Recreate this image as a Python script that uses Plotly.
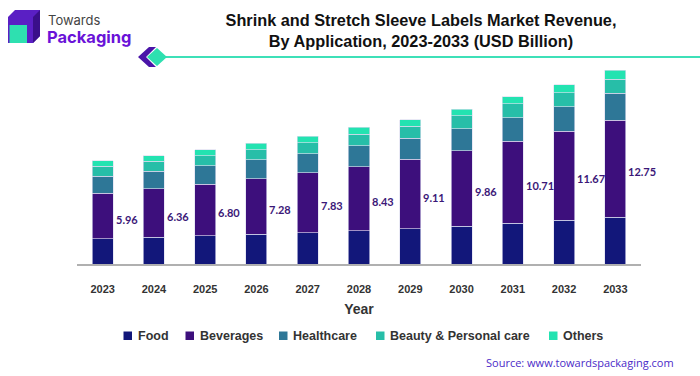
import plotly.graph_objects as go

years = ["2023", "2024", "2025", "2026", "2027", "2028", "2029", "2030", "2031", "2032", "2033"]
food = [3.29, 3.50, 3.68, 3.90, 4.12, 4.34, 4.60, 4.96, 5.35, 5.75, 6.12]
beverages = [5.96, 6.36, 6.80, 7.28, 7.83, 8.43, 9.11, 9.86, 10.71, 11.67, 12.75]
healthcare = [2.24, 2.27, 2.37, 2.46, 2.50, 2.72, 2.76, 2.89, 3.12, 3.20, 3.54]
beauty = [1.32, 1.31, 1.31, 1.36, 1.45, 1.49, 1.58, 1.71, 1.80, 1.84, 1.83]
others = [0.75, 0.75, 0.79, 0.84, 0.84, 0.92, 0.88, 0.88, 0.92, 1.05, 1.14]

series_names = ["Food", "Beverages", "Healthcare", "Beauty & Personal care", "Others"]
series_values = [food, beverages, healthcare, beauty, others]
colors = ["#12177a", "#3d0f7c", "#2e7797", "#27bea8", "#23e3b1"]

W, H = 700, 376
L, R, T, B = 77, 59, 60, 112
PW, PH = W - L - R, H - T - B


def pxx(x):
    return (x - L) / PW


def pxy(y):
    return (H - B - y) / PH


fig = go.Figure()
for name, vals, col in zip(series_names, series_values, colors):
    fig.add_trace(go.Bar(
        x=years, y=vals, name=name,
        marker=dict(color=col, line=dict(color="rgba(220,220,240,0.8)", width=0.8)),
        showlegend=False,
    ))

annotations = []
# beverages value labels (x given as category index)
for i, (f, b) in enumerate(zip(food, beverages)):
    annotations.append(dict(
        x=i, y=f + b / 2, xref="x", yref="y", text=f"{b:.2f}",
        showarrow=False, xanchor="left", yanchor="middle", xshift=11, yshift=-3,
        font=dict(family="Lato", size=11, color="#3b1878", weight="bold"),
    ))

shapes = []
# manual legend
sq_x = [123.5, 185.5, 279, 376, 549]
leg_y = 336
for name, col, sx in zip(series_names, colors, sq_x):
    shapes.append(dict(type="rect", xref="paper", yref="paper",
                       x0=pxx(sx), x1=pxx(sx + 8.5), y0=pxy(leg_y - 4.5), y1=pxy(leg_y + 4),
                       fillcolor=col, line=dict(width=0)))
    annotations.append(dict(
        x=pxx(sx + 12), y=pxy(leg_y), xref="paper", yref="paper", text=name,
        showarrow=False, xanchor="left", yanchor="middle",
        font=dict(family="Liberation Sans", size=12.5, color="#333333", weight="bold"),
    ))

# source
annotations.append(dict(
    x=pxx(676), y=pxy(362), xref="paper", yref="paper",
    text="Source: www.towardspackaging.com", showarrow=False,
    xanchor="right", yanchor="middle",
    font=dict(family="Open Sans", size=11, color="#4b2bc8"),
))

# logo
shapes.append(dict(type="path", xref="paper", yref="paper",
                   path=f"M {pxx(8)},{pxy(17)} L {pxx(15)},{pxy(10)} L {pxx(40)},{pxy(10)} L {pxx(40)},{pxy(36)} "
                        f"L {pxx(33)},{pxy(43)} L {pxx(8)},{pxy(43)} Z",
                   fillcolor="#5a1fc4", line=dict(width=0)))
shapes.append(dict(type="path", xref="paper", yref="paper",
                   path=f"M {pxx(33)},{pxy(17)} L {pxx(40)},{pxy(10)} L {pxx(40)},{pxy(36)} L {pxx(33)},{pxy(43)} Z",
                   fillcolor="#3a0f8a", line=dict(width=0)))
shapes.append(dict(type="rect", xref="paper", yref="paper",
                   x0=pxx(9.5), x1=pxx(27), y0=pxy(43), y1=pxy(25),
                   fillcolor="#2ee0b0", line=dict(width=0)))
annotations.append(dict(
    x=pxx(46), y=pxy(20), xref="paper", yref="paper", text="Towards", showarrow=False,
    xanchor="left", yanchor="middle",
    font=dict(family="Inter", size=13, color="#444444"),
))
annotations.append(dict(
    x=pxx(45), y=pxy(37), xref="paper", yref="paper", text="Packaging", showarrow=False,
    xanchor="left", yanchor="middle",
    font=dict(family="Inter", size=16.5, color="#6a12d8", weight="bold"),
))

# decorative line with chevron
shapes.append(dict(type="line", xref="paper", yref="paper",
                   x0=pxx(165), x1=pxx(700), y0=pxy(57), y1=pxy(57),
                   line=dict(color="#3ee0b8", width=2)))
shapes.append(dict(type="path", xref="paper", yref="paper",
                   path=f"M {pxx(138)},{pxy(57)} L {pxx(149)},{pxy(47)} L {pxx(156)},{pxy(47)} L {pxx(146)},{pxy(57)} "
                        f"L {pxx(156)},{pxy(67)} L {pxx(149)},{pxy(67)} Z",
                   fillcolor="#4a14a8", line=dict(width=0)))
shapes.append(dict(type="path", xref="paper", yref="paper",
                   path=f"M {pxx(147)},{pxy(57)} L {pxx(157)},{pxy(48)} L {pxx(167)},{pxy(57)} L {pxx(157)},{pxy(66)} Z",
                   fillcolor="#2ee0b0", line=dict(width=0)))

fig.update_layout(
    width=W, height=H,
    margin=dict(l=L, r=R, t=T, b=B, autoexpand=False),
    barmode="stack", bargap=0.59,
    plot_bgcolor="white", paper_bgcolor="white",
    title=dict(
        text="Shrink and Stretch Sleeve Labels Market Revenue,<br>By Application, 2023-2033 (USD Billion)",
        x=421 / W, xanchor="center", xref="container",
        y=1 - 26 / H, yanchor="top", yref="container",
        font=dict(family="Liberation Sans", size=16.3, color="#111111", weight="bold"),
    ),
    xaxis=dict(
        type="category", range=[-0.5, 10.5],
        showline=True, linecolor="#b0b0b0", linewidth=1.5,
        ticks="", showgrid=False,
        tickfont=dict(family="Liberation Sans", size=11, color="#333333", weight="bold"),
        ticklabelstandoff=14,
        title=dict(text="Year", standoff=10,
                   font=dict(family="Liberation Sans", size=14, color="#333333", weight="bold")),
    ),
    yaxis=dict(range=[0, PH / 7.63], visible=False, showgrid=False),
    annotations=annotations,
    shapes=shapes,
    showlegend=False,
)

fig.write_html("out.html", config={"displayModeBar": False},
               post_script="document.body.style.margin='0';document.body.style.overflow='hidden';")
